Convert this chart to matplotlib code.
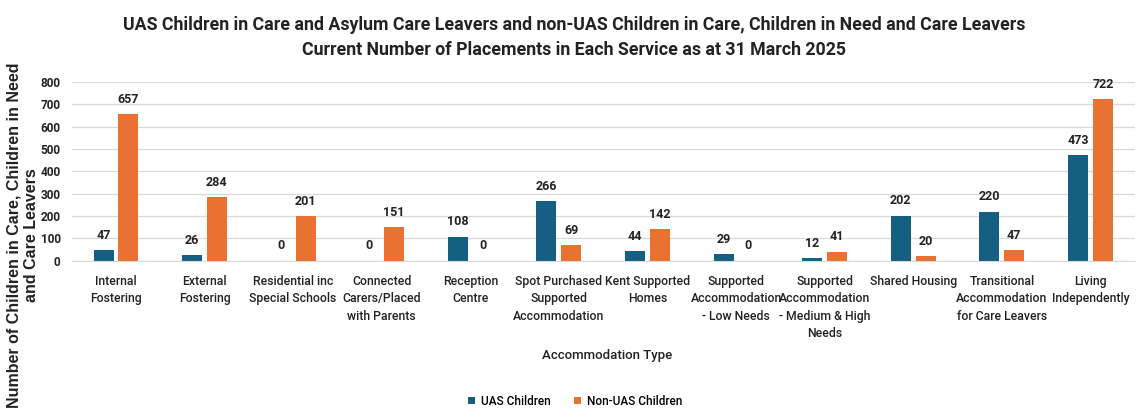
import matplotlib.pyplot as plt
import numpy as np

plt.rcParams['font.family'] = ['Roboto', 'DejaVu Sans']

categories = ["Internal\nFostering", "External\nFostering", "Residential inc\nSpecial Schools",
              "Connected\nCarers/Placed\nwith Parents", "Reception\nCentre",
              "Spot Purchased\nSupported\nAccommodation", "Kent Supported\nHomes",
              "Supported\nAccommodation\n- Low Needs", "Supported\nAccommodation\n- Medium & High\nNeeds",
              "Shared Housing", "Transitional\nAccommodation\nfor Care Leavers", "Living\nIndependently"]
uas = [47, 26, 0, 0, 108, 266, 44, 29, 12, 202, 220, 473]
non_uas = [657, 284, 201, 151, 0, 69, 142, 0, 41, 20, 47, 722]

blue = '#156082'
orange = '#E97132'

fig = plt.figure(figsize=(11.37, 4.2), dpi=100)
ax = fig.add_axes([0.063, 0.379, 0.935, 0.426])

x = np.arange(len(categories))
w = 0.226
off = 0.14
b1 = ax.bar(x - off, uas, w, color=blue, label='UAS Children')
b2 = ax.bar(x + off, non_uas, w, color=orange, label='Non-UAS Children')
for bars in (b1, b2):
    ax.bar_label(bars, padding=6, fontsize=9, fontweight='bold', color='#222222')

ax.set_xlim(-0.5, len(categories) - 0.5)
ax.set_ylim(0, 800)
ax.set_yticks(range(0, 801, 100))
ax.set_xticks(x)
ax.set_xticklabels(categories, fontsize=8.8, fontweight='medium', linespacing=1.45)
ax.tick_params(axis='both', length=0, colors='#222222')
ax.tick_params(axis='y', labelsize=8.5, pad=8)
ax.tick_params(axis='x', pad=10)
for lab in ax.get_yticklabels():
    lab.set_fontweight('bold')
ax.grid(axis='y', color='#d9d9d9', linewidth=0.9)
ax.set_axisbelow(True)
for s in ['top', 'right', 'left']:
    ax.spines[s].set_visible(False)
ax.spines['bottom'].set_color('#d9d9d9')

fig.text(0.505, 0.94, 'UAS Children in Care and Asylum Care Leavers and non-UAS Children in Care, Children in Need and Care Leavers',
         ha='center', va='center', fontsize=12.8, fontweight='bold', color='#222222')
fig.text(0.505, 0.882, 'Current Number of Placements in Each Service as at 31 March 2025',
         ha='center', va='center', fontsize=12.8, fontweight='bold', color='#222222')
fig.text(0.534, 0.153, 'Accommodation Type', ha='center', va='center', fontsize=9.5,
         fontweight='medium', color='#222222')
fig.text(0.02, 0.44, 'Number of Children in Care, Children in Need\nand Care Leavers', rotation=90,
         ha='center', va='center', fontsize=11.5, fontweight='bold', family=['Liberation Sans', 'DejaVu Sans'],
         color='#222222', linespacing=1.15)

leg = fig.legend(handles=[b1, b2], loc='center', bbox_to_anchor=(0.506, 0.045), ncol=2, frameon=False,
                 fontsize=8.5, handlelength=0.6, handleheight=0.6, columnspacing=2.0, handletextpad=0.5)
for t in leg.get_texts():
    t.set_fontweight('medium')

fig.savefig('out.png', dpi=100)
